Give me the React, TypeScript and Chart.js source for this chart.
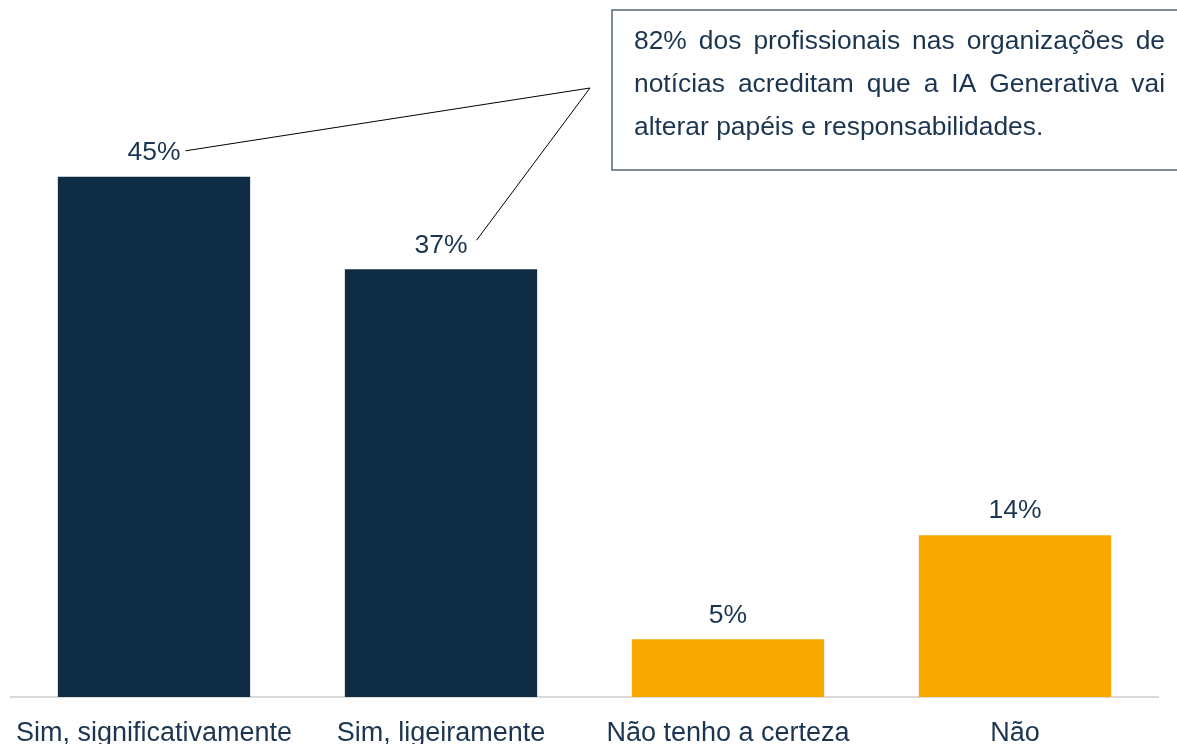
import React, { useEffect, useRef } from "react";
import { Chart, registerables } from "chart.js";

Chart.register(...registerables);

const categories = ["Sim, significativamente", "Sim, ligeiramente", "Não tenho a certeza", "Não"];
const values = [45, 37, 5, 14];
const barColors = ["#0f2c45", "#0f2c45", "#f9a800", "#f9a800"];
const calloutLines = [
  "82% dos profissionais nas organizações de",
  "notícias acreditam que a IA Generativa vai",
  "alterar papéis e responsabilidades.",
];

const FONT = "'Liberation Sans', Arial, sans-serif";
const TEXT_COLOR = "#1b3550";

const labelPlugin = {
  id: "labelsAndCallout",
  afterDatasetsDraw(chart: any) {
    const ctx = chart.ctx;
    const meta = chart.getDatasetMeta(0);
    ctx.save();
    ctx.font = `26.5px ${FONT}`;
    ctx.fillStyle = TEXT_COLOR;
    ctx.textAlign = "center";
    ctx.textBaseline = "middle";
    const labelPos: { x: number; y: number; w: number }[] = [];
    meta.data.forEach((bar: any, i: number) => {
      const txt = `${values[i]}%`;
      const y = bar.y - 24;
      ctx.fillText(txt, bar.x, y);
      labelPos.push({ x: bar.x, y, w: ctx.measureText(txt).width });
    });

    // callout box
    const bx = 612, by = 10, bw = 600, bh = 160;
    ctx.strokeStyle = "#56677a";
    ctx.lineWidth = 1.5;
    ctx.strokeRect(bx, by, bw, bh);

    // text, justified
    ctx.font = `26.4px ${FONT}`;
    ctx.textAlign = "left";
    const tx0 = 634, tx1 = 1165;
    calloutLines.forEach((line, li) => {
      const y = 42 + li * 43;
      if (li === calloutLines.length - 1) {
        ctx.fillText(line, tx0, y);
        return;
      }
      const words = line.split(" ");
      const total = words.reduce((s, w) => s + ctx.measureText(w).width, 0);
      const gap = (tx1 - tx0 - total) / (words.length - 1);
      let x = tx0;
      words.forEach((w) => {
        ctx.fillText(w, x, y);
        x += ctx.measureText(w).width + gap;
      });
    });

    // leader lines
    const apexX = bx - 22, apexY = 88;
    ctx.strokeStyle = "#000000";
    ctx.lineWidth = 1;
    const p0 = labelPos[0], p1 = labelPos[1];
    ctx.beginPath();
    ctx.moveTo(p0.x + p0.w / 2 + 5, p0.y - 2);
    ctx.lineTo(apexX, apexY);
    ctx.lineTo(p1.x + p1.w / 2 + 9, p1.y - 5);
    ctx.stroke();
    ctx.restore();
  },
};

export default function App() {
  const ref = useRef<HTMLCanvasElement>(null);
  useEffect(() => {
    if (!ref.current) return;
    const chart = new Chart(ref.current, {
      type: "bar",
      data: {
        labels: categories,
        datasets: [
          {
            data: values,
            backgroundColor: barColors,
            categoryPercentage: 0.67,
            barPercentage: 1,
          },
        ],
      },
      options: {
        animation: false,
        responsive: false,
        layout: { padding: { left: 10.5, right: 18.5, top: 119, bottom: 0 } },
        plugins: { legend: { display: false }, tooltip: { enabled: false } },
        scales: {
          y: { display: false, min: 0, max: 50 },
          x: {
            grid: { display: false, drawTicks: false },
            border: { display: true, color: "#d9d9d9", width: 2 },
            ticks: {
              color: TEXT_COLOR,
              font: { family: FONT, size: 27 },
              padding: 20,
              maxRotation: 0,
              autoSkip: false,
            },
            afterFit: (scale: any) => {
              scale.paddingLeft = 0;
              scale.paddingRight = 0;
              scale.height = 47;
            },
          },
        },
      },
      plugins: [labelPlugin],
    });
    return () => chart.destroy();
  }, []);
  return (
    <div style={{ position: "fixed", left: 0, top: 0, width: 1177, height: 744, background: "#fff", overflow: "hidden" }}>
      <canvas ref={ref} width={1177} height={744} style={{ display: "block" }} />
    </div>
  );
}
